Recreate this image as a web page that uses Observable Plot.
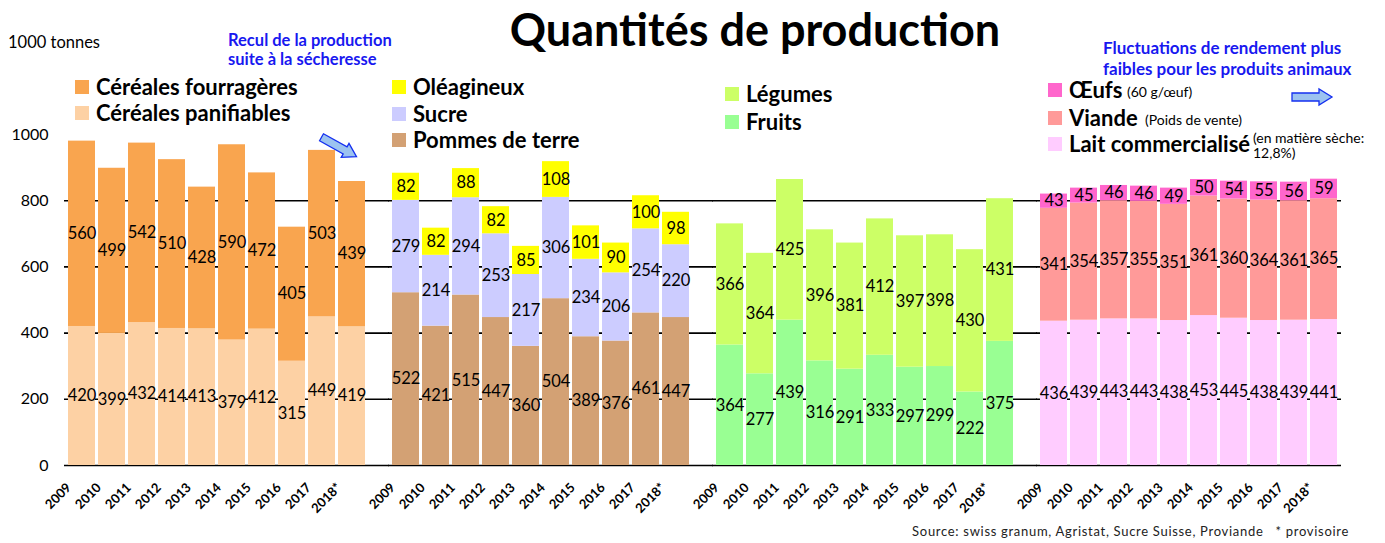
<!DOCTYPE html>
<html><head><meta charset="utf-8">
<script src="https://cdn.jsdelivr.net/npm/d3@7"></script>
<script src="https://cdn.jsdelivr.net/npm/@observablehq/plot@0.6"></script>
<style>
body{margin:0;background:#fff;font-family:Lato,"Open Sans",sans-serif;color:#000;}
#wrap{position:relative;width:1385px;height:543px;overflow:hidden;}
#chart{position:absolute;left:0;top:0;}
.abs{position:absolute;white-space:nowrap;}
.title{font-weight:bold;font-size:45px;text-align:center;}
.blue{color:#1818F0;font-weight:bold;font-size:16.5px;line-height:19px;}
.leg{font-weight:bold;font-size:22px;line-height:26px;display:flex;align-items:center;}
.leg .sw{width:14px;height:14px;margin-right:7px;flex:none;}
.note{font-size:14px;line-height:15px;}
</style></head><body><div id="wrap"><div id="chart"></div></div>
<script>
// ---- data ----
const years = ["2009","2010","2011","2012","2013","2014","2015","2016","2017","2018*"];
const groups = ["Céréales","Cultures","Végétaux","Animaux"];
const cerealesPanifiables = [420,399,432,414,413,379,412,315,449,419];
const cerealesFourrageres = [560,499,542,510,428,590,472,405,503,439];
const pommesDeTerre = [522,421,515,447,360,504,389,376,461,447];
const sucre = [279,214,294,253,217,306,234,206,254,220];
const oleagineux = [82,82,88,82,85,108,101,90,100,98];
const fruits = [364,277,439,316,291,333,297,299,222,375];
const legumes = [366,364,425,396,381,412,397,398,430,431];
const lait = [436,439,443,443,438,453,445,438,439,441];
const viande = [341,354,357,355,351,361,360,364,361,365];
const oeufs = [43,45,46,46,49,50,54,55,56,59];
const yTicks = [0,200,400,600,800,1000];
const gridValues = [0,200,400,600,800];

const seriesDefs = [
  {group:"Céréales", name:"Céréales panifiables", values:cerealesPanifiables},
  {group:"Céréales", name:"Céréales fourragères", values:cerealesFourrageres},
  {group:"Cultures", name:"Pommes de terre", values:pommesDeTerre},
  {group:"Cultures", name:"Sucre", values:sucre},
  {group:"Cultures", name:"Oléagineux", values:oleagineux},
  {group:"Végétaux", name:"Fruits", values:fruits},
  {group:"Végétaux", name:"Légumes", values:legumes},
  {group:"Animaux", name:"Lait commercialisé", values:lait},
  {group:"Animaux", name:"Viande", values:viande},
  {group:"Animaux", name:"Œufs", values:oeufs}
];
const colors = {
  "Céréales panifiables":"#FDD1A4","Céréales fourragères":"#F9A54F",
  "Pommes de terre":"#D3A174","Sucre":"#CCCCFF","Oléagineux":"#FFFF00",
  "Fruits":"#99FF93","Légumes":"#CCFF66",
  "Lait commercialisé":"#FFCCFF","Viande":"#FF9A99","Œufs":"#FF66CC"
};

const data = [];
for (const s of seriesDefs) years.forEach((y,i)=>data.push({group:s.group, year:y, series:s.name, value:s.values[i]}));
const gridInner = [], gridLast = [];
groups.forEach((g,gi)=>gridValues.forEach(v=>(gi<groups.length-1?gridInner:gridLast).push({group:g, value:v})));

const chart = Plot.plot({
  width:1385, height:543,
  marginLeft:62, marginRight:42, marginTop:134, marginBottom:78,
  style:{fontFamily:"Lato, 'Open Sans', sans-serif", background:"#fff", color:"#000"},
  fx:{domain:groups, axis:null, paddingInner:0.058, paddingOuter:0},
  x:{domain:years, paddingInner:0.085, paddingOuter:0.01, label:null},
  y:{domain:[0,1000], label:null},
  color:{domain:Object.keys(colors), range:Object.values(colors)},
  marks:[
    Plot.ruleY(gridInner, {fx:"group", y:"value", stroke:"#000", strokeWidth:1.6, insetRight:-20}),
    Plot.ruleY(gridLast, {fx:"group", y:"value", stroke:"#000", strokeWidth:1.6}),
    Plot.barY(data, {fx:"group", x:"year", y:"value", fill:"series"}),
    Plot.text(data, Plot.stackY({fx:"group", x:"year", y:"value", text:d=>String(d.value), fontSize:16.5, fill:"#000"})),
    Plot.axisY({ticks:yTicks, tickFormat:d=>String(d), tickSize:0, tickPadding:16, fontSize:16, label:null}),
    Plot.axisX({tickRotate:-45, tickSize:0, tickPadding:0, fontSize:13, fontWeight:"bold", dx:-13, dy:20, label:null})
  ]
});
const wrap = document.getElementById("wrap");
document.getElementById("chart").appendChild(chart);

// ---- text annotations & legend ----
function addDiv(cls, html, style){
  const d = document.createElement("div");
  d.className = "abs " + cls; d.innerHTML = html;
  Object.assign(d.style, style); wrap.appendChild(d); return d;
}
addDiv("title", "Quantités de production", {left:"455px", width:"600px", top:"2px"});
addDiv("", "1000 tonnes", {left:"8px", top:"32px", fontSize:"16.5px"});
addDiv("blue", "Recul de la production<br>suite à la sécheresse", {left:"228px", top:"31px"});
addDiv("blue", "Fluctuations de rendement plus<br>faibles pour les produits animaux", {left:"1103px", top:"37px", fontSize:"17px", lineHeight:"21px"});
addDiv("", "Source: swiss granum, Agristat, Sucre Suisse, Proviande &nbsp; * provisoire", {right:"36px", top:"523px", fontSize:"13px", letterSpacing:"0.7px", color:"#222"});

const legendLayout = [
  {name:"Céréales fourragères", x:75, y:87},
  {name:"Céréales panifiables", x:75, y:113},
  {name:"Oléagineux", x:392, y:87},
  {name:"Sucre", x:392, y:114},
  {name:"Pommes de terre", x:392, y:140},
  {name:"Légumes", x:725, y:94},
  {name:"Fruits", x:725, y:122},
  {name:"Œufs", x:1048, y:90},
  {name:"Viande", x:1048, y:118},
  {name:"Lait commercialisé", x:1048, y:144}
];
for (const l of legendLayout) {
  addDiv("leg", `<span class="sw" style="background:${colors[l.name]}"></span><span>${l.name}</span>`, {left:l.x+"px", top:(l.y-13)+"px"});
}
const notes = [
  {text:"(60 g/œuf)", x:1127, y:84},
  {text:"(Poids de vente)", x:1145, y:112},
  {text:"(en matière sèche:<br>12,8%)", x:1253, y:130}
];
for (const n of notes) addDiv("note", n.text, {left:n.x+"px", top:n.y+"px"});

// arrows (decorative)
const arrow = (left, top, rot) => addDiv("", `<svg width="44" height="18" style="overflow:visible"><polygon points="1,5 28,5 28,1 41,9 28,17 28,13 1,13" fill="#9CC3F0" stroke="#1530F0" stroke-width="1.3" transform="rotate(${rot} 21 9)"/></svg>`, {left:left+"px", top:top+"px"});
arrow(318, 138, 29);
arrow(1291, 88, 0);
</script>
</body></html>
